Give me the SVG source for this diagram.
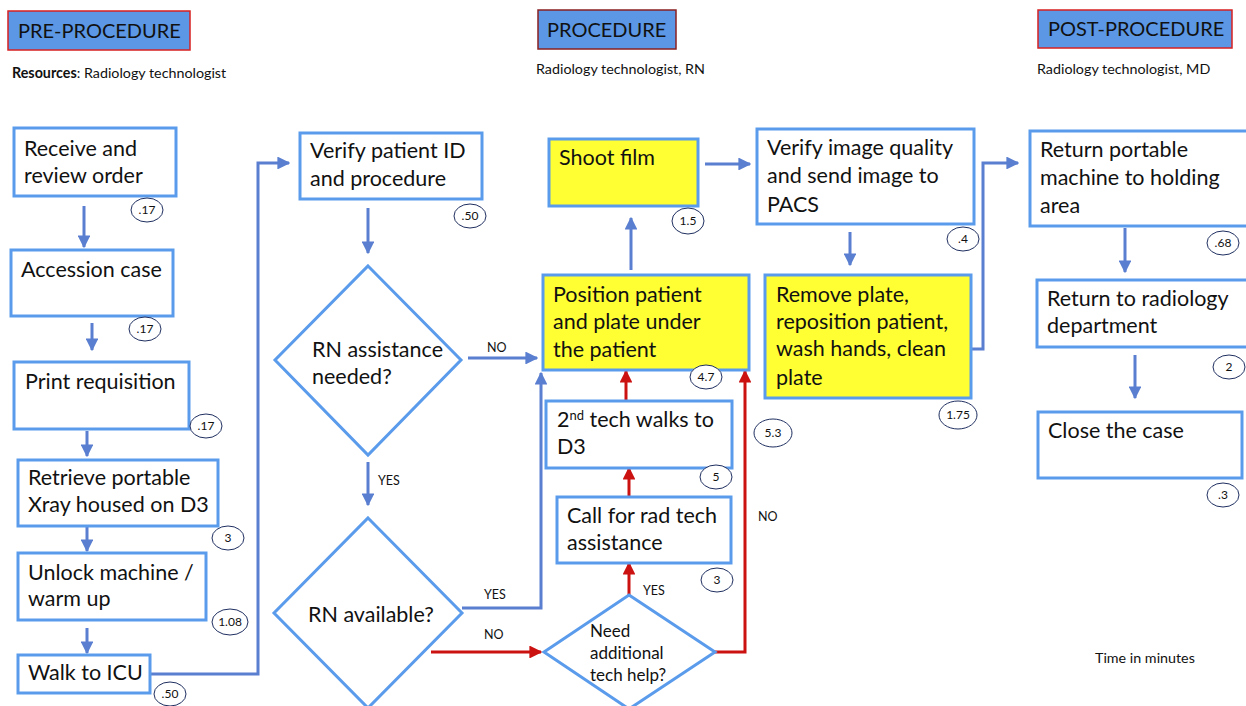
<svg xmlns="http://www.w3.org/2000/svg" width="1246" height="706" viewBox="0 0 1246 706">
<style>
text{font-family:Lato,"Open Sans","Liberation Sans",sans-serif;fill:#111}
.box{fill:#fff;stroke:#5b9bec;stroke-width:3}
.yel{fill:#ffff33;stroke:#5b9bec;stroke-width:3}
.hdr{fill:#5b97e4;stroke-width:1.5}
.t{font-size:21.5px}
.t2{font-size:17px}
.sm{font-size:14.3px}
.lbl{font-size:12.5px}
.c{fill:#fff;stroke:#1f2f60;stroke-width:1}
.ct{font-size:12px;text-anchor:middle}
.b{fill:none;stroke:#5a7fd0;stroke-width:3}
.r{fill:none;stroke:#cc1111;stroke-width:3}
</style>
<defs>
<marker id="ab" viewBox="0 0 10 10" refX="9" refY="5" markerWidth="4.3" markerHeight="4.3" orient="auto" markerUnits="strokeWidth"><path d="M0,0L10,5L0,10z" fill="#5a7fd0"/></marker>
<marker id="ar" viewBox="0 0 10 10" refX="9" refY="5" markerWidth="4.3" markerHeight="4.3" orient="auto" markerUnits="strokeWidth"><path d="M0,0L10,5L0,10z" fill="#cc1111"/></marker>
</defs>
<rect width="1246" height="706" fill="#fff"/>
<g id="headers">
<rect class="hdr" x="8" y="11" width="182" height="39" stroke="#d82020"/>
<text x="18" y="38" style="font-size:20px">PRE-PROCEDURE</text>
<text x="12" y="78" class="sm"><tspan font-weight="bold">Resources</tspan>: Radiology technologist</text>
<rect class="hdr" x="538" y="10" width="138" height="39" stroke="#8a2020"/>
<text x="547" y="37" style="font-size:20px">PROCEDURE</text>
<text x="536" y="74" class="sm">Radiology technologist, RN</text>
<rect class="hdr" x="1038" y="10" width="194" height="38" stroke="#d82020"/>
<text x="1048" y="36" style="font-size:20px">POST-PROCEDURE</text>
<text x="1037" y="74" class="sm">Radiology technologist, MD</text>
<text x="1095" y="663" class="sm">Time in minutes</text>
</g>
<g id="connectors">
<line class="b" x1="84" y1="206" x2="84" y2="247" marker-end="url(#ab)"/>
<line class="b" x1="92" y1="323" x2="92" y2="350" marker-end="url(#ab)"/>
<line class="b" x1="87" y1="431" x2="87" y2="456" marker-end="url(#ab)"/>
<line class="b" x1="87" y1="527" x2="87" y2="551" marker-end="url(#ab)"/>
<line class="b" x1="87" y1="628" x2="87" y2="653" marker-end="url(#ab)"/>
<polyline class="b" points="150,674 258,674 258,163 289,163" marker-end="url(#ab)"/>
<line class="b" x1="368" y1="208" x2="368" y2="253" marker-end="url(#ab)"/>
<line class="b" x1="468" y1="358" x2="537" y2="358" marker-end="url(#ab)"/>
<line class="b" x1="368" y1="462" x2="368" y2="505" marker-end="url(#ab)"/>
<polyline class="b" points="462,608 541,608 541,373" marker-end="url(#ab)"/>
<line class="r" x1="431" y1="652" x2="541" y2="652" marker-end="url(#ar)"/>
<line class="r" x1="629" y1="595" x2="629" y2="563" marker-end="url(#ar)"/>
<line class="r" x1="629" y1="497" x2="629" y2="468" marker-end="url(#ar)"/>
<line class="r" x1="626" y1="401" x2="626" y2="371" marker-end="url(#ar)"/>
<polyline class="r" points="715,652 745,652 745,371" marker-end="url(#ar)"/>
<line class="b" x1="631" y1="270" x2="631" y2="218" marker-end="url(#ab)"/>
<line class="b" x1="705" y1="164" x2="750" y2="164" marker-end="url(#ab)"/>
<line class="b" x1="850" y1="232" x2="850" y2="265" marker-end="url(#ab)"/>
<polyline class="b" points="971,349 983,349 983,163 1018,163" marker-end="url(#ab)"/>
<line class="b" x1="1125" y1="228" x2="1125" y2="272" marker-end="url(#ab)"/>
<line class="b" x1="1135" y1="355" x2="1135" y2="398" marker-end="url(#ab)"/>
<text x="487" y="352" class="lbl">NO</text>
<text x="378" y="485" class="lbl">YES</text>
<text x="484" y="599" class="lbl">YES</text>
<text x="484" y="639" class="lbl">NO</text>
<text x="643" y="595" class="lbl">YES</text>
<text x="758" y="521" class="lbl">NO</text>
</g>
<g id="n-receive">
<rect class="box" x="14" y="128" width="162" height="68"/>
<text x="24" y="156" class="t">Receive and</text><text x="24" y="183" class="t">review order</text>
<ellipse class="c" cx="147" cy="210" rx="16" ry="12"/><text x="147" y="214" class="ct">.17</text>
</g>
<g id="n-accession">
<rect class="box" x="11" y="250" width="162" height="66"/>
<text x="21" y="277" class="t">Accession case</text>
<ellipse class="c" cx="145" cy="329" rx="16" ry="12"/><text x="145" y="333" class="ct">.17</text>
</g>
<g id="n-print">
<rect class="box" x="14" y="362" width="175" height="67"/>
<text x="25" y="389" class="t">Print requisition</text>
<ellipse class="c" cx="206" cy="426" rx="16" ry="12"/><text x="206" y="430" class="ct">.17</text>
</g>
<g id="n-retrieve">
<rect class="box" x="18" y="460" width="200" height="66"/>
<text x="28" y="485" class="t">Retrieve portable</text><text x="28" y="512" class="t">Xray housed on D3</text>
<ellipse class="c" cx="228" cy="538" rx="16" ry="12"/><text x="228" y="542" class="ct">3</text>
</g>
<g id="n-unlock">
<rect class="box" x="18" y="553" width="188" height="67"/>
<text x="28" y="580" class="t">Unlock machine /</text><text x="28" y="606" class="t">warm up</text>
<ellipse class="c" cx="230" cy="622" rx="18" ry="13"/><text x="230" y="626" class="ct">1.08</text>
</g>
<g id="n-walk">
<rect class="box" x="18" y="655" width="132" height="38"/>
<text x="28" y="680" class="t">Walk to ICU</text>
<ellipse class="c" cx="170" cy="694" rx="16" ry="12"/><text x="170" y="698" class="ct">.50</text>
</g>
<g id="n-verify-id">
<rect class="box" x="300" y="133" width="182" height="66"/>
<text x="310" y="158" class="t">Verify patient ID</text><text x="310" y="186" class="t">and procedure</text>
<ellipse class="c" cx="470" cy="216" rx="16" ry="12"/><text x="470" y="220" class="ct">.50</text>
</g>
<g id="n-rn-needed">
<polygon class="box" points="368,266 461,360 368,455 275,360"/>
<text x="312" y="357" class="t">RN assistance</text><text x="312" y="384" class="t">needed?</text>
</g>
<g id="n-rn-available">
<polygon class="box" points="368,518 462,613 368,708 274,613"/>
<text x="308" y="622" class="t">RN available?</text>
</g>
<g id="n-need-help">
<polygon class="box" points="629,595 715,652 629,709 544,652"/>
<text x="590" y="637" class="t2">Need</text><text x="590" y="659" class="t2">additional</text><text x="590" y="681" class="t2">tech help?</text>
</g>
<g id="n-call">
<rect class="box" x="557" y="497" width="174" height="66"/>
<text x="567" y="523" class="t">Call for rad tech</text><text x="567" y="550" class="t">assistance</text>
<ellipse class="c" cx="717" cy="580" rx="16" ry="12"/><text x="717" y="584" class="ct">3</text>
</g>
<g id="n-2nd">
<rect class="box" x="546" y="401" width="186" height="67"/>
<text x="557" y="427" class="t">2<tspan font-size="13" dy="-7">nd</tspan><tspan dy="7"> tech walks to</tspan></text><text x="557" y="454" class="t">D3</text>
<ellipse class="c" cx="716" cy="477" rx="16" ry="12"/><text x="716" y="481" class="ct">5</text>
<ellipse class="c" cx="773" cy="433" rx="19" ry="14"/><text x="773" y="437" class="ct">5.3</text>
</g>
<g id="n-position">
<rect class="yel" x="543" y="275" width="206" height="95"/>
<text x="553" y="302" class="t">Position patient</text><text x="553" y="329" class="t">and plate under</text><text x="553" y="357" class="t">the patient</text>
<ellipse class="c" cx="706" cy="377" rx="16" ry="12"/><text x="706" y="381" class="ct">4.7</text>
</g>
<g id="n-shoot">
<rect class="yel" x="549" y="139" width="149" height="67"/>
<text x="559" y="165" class="t">Shoot film</text>
<ellipse class="c" cx="688" cy="221" rx="16" ry="13"/><text x="688" y="225" class="ct">1.5</text>
</g>
<g id="n-verify-img">
<rect class="box" x="757" y="129" width="217" height="95"/>
<text x="767" y="155" class="t">Verify image quality</text><text x="767" y="183" class="t">and send image to</text><text x="767" y="212" class="t">PACS</text>
<ellipse class="c" cx="963" cy="239" rx="16" ry="12"/><text x="963" y="243" class="ct">.4</text>
</g>
<g id="n-remove">
<rect class="yel" x="765" y="275" width="206" height="123"/>
<text x="776" y="302" class="t">Remove plate,</text><text x="776" y="329" class="t">reposition patient,</text><text x="776" y="356" class="t">wash hands, clean</text><text x="776" y="385" class="t">plate</text>
<ellipse class="c" cx="958" cy="415" rx="19" ry="14"/><text x="958" y="419" class="ct">1.75</text>
</g>
<g id="n-return-machine">
<rect class="box" x="1030" y="131" width="220" height="95"/>
<text x="1040" y="157" class="t">Return portable</text><text x="1040" y="185" class="t">machine to holding</text><text x="1040" y="213" class="t">area</text>
<ellipse class="c" cx="1223" cy="243" rx="16" ry="12"/><text x="1223" y="247" class="ct">.68</text>
</g>
<g id="n-return-dept">
<rect class="box" x="1037" y="280" width="213" height="67"/>
<text x="1047" y="306" class="t">Return to radiology</text><text x="1047" y="333" class="t">department</text>
<ellipse class="c" cx="1229" cy="367" rx="16" ry="12"/><text x="1229" y="371" class="ct">2</text>
</g>
<g id="n-close">
<rect class="box" x="1038" y="412" width="204" height="66"/>
<text x="1048" y="438" class="t">Close the case</text>
<ellipse class="c" cx="1223" cy="495" rx="16" ry="12"/><text x="1223" y="499" class="ct">.3</text>
</g>
</svg>
